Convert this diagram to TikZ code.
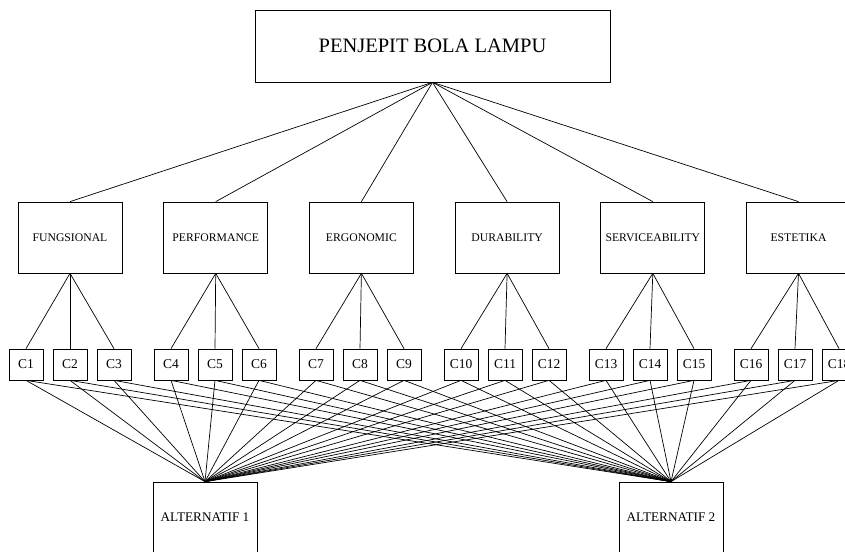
\documentclass[tikz,border=0pt]{standalone}
\usepackage{fontspec}
\setmainfont{Liberation Serif}
\usetikzlibrary{positioning}

\begin{document}
\begin{tikzpicture}[x=1pt, y=1pt, line width=0.7pt, node distance=41pt,
  goal/.style={draw, minimum width=355pt, minimum height=72pt, font=\fontsize{20.5}{23}\selectfont},
  crit/.style={draw, minimum width=104pt, minimum height=71pt, inner sep=1pt, font=\fontsize{11.7}{13}\selectfont},
  sub/.style={draw, minimum width=34pt, minimum height=31pt, inner sep=1pt, font=\fontsize{13.5}{15}\selectfont},
  alt/.style={draw, minimum width=104pt, minimum height=71pt, font=\fontsize{13.2}{15}\selectfont}]
\path[use as bounding box, fill=white] (0,0) rectangle (845,551);

% Goal
\node[goal] (top) at (432.5,505) {PENJEPIT BOLA LAMPU};

% Criteria row
\node[crit] (k1) at (70,313.5) {FUNGSIONAL};
\node[crit, right=of k1] (k2) {PERFORMANCE};
\node[crit, right=of k2] (k3) {ERGONOMIC};
\node[crit, right=of k3] (k4) {DURABILITY};
\node[crit, right=of k4] (k5) {SERVICEABILITY};
\node[crit, right=of k5] (k6) {ESTETIKA};

% Sub-criteria row
\foreach \n in {1,...,18} {
  \pgfmathsetmacro\cx{70+145*int((\n-1)/3)+44*(mod(\n-1,3)-1)}
  \node[sub] (c\n) at (\cx,186.5) {C\n};
}

% Alternatives
\node[alt] (alt1) at (205,33.5) {ALTERNATIF 1};
\node[alt] (alt2) at (671,33.5) {ALTERNATIF 2};

% Lines
\foreach \k in {1,...,6}
  \draw (top.south) -- (k\k.north);
\foreach \n in {1,...,18} {
  \pgfmathtruncatemacro\k{int((\n-1)/3)+1}
  \draw (k\k.south) -- (c\n.north);
  \draw (c\n.south) -- (alt1.north);
  \draw (c\n.south) -- (alt2.north);
}
\end{tikzpicture}
\end{document}
